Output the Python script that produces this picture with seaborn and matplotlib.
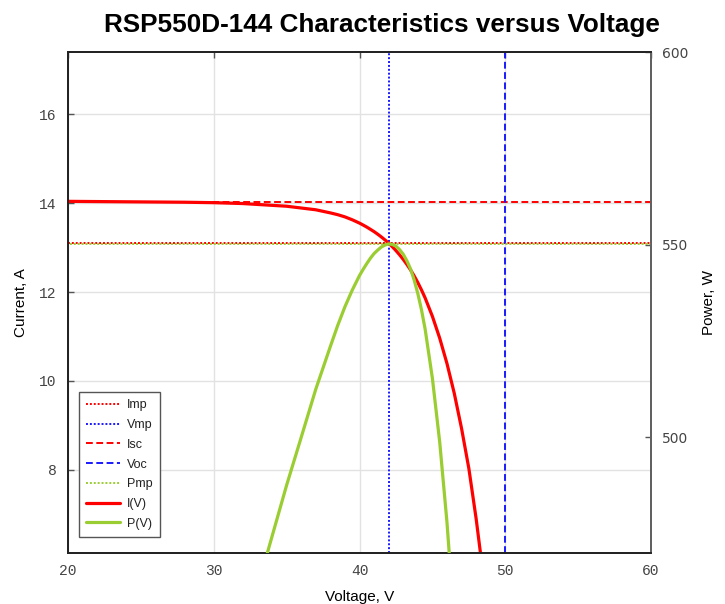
import matplotlib
matplotlib.use("Agg")
import matplotlib.pyplot as plt
import pandas as pd
import seaborn as sns
from matplotlib.lines import Line2D

# values
voltage = [20, 24, 28, 30, 32, 33, 34, 35, 36, 37, 38, 38.5, 39, 39.5,
           40, 40.25, 40.5, 40.75, 41, 41.25, 41.5, 41.75, 42, 42.25, 42.5,
           42.75, 43, 43.25, 43.5, 43.75, 44, 44.25, 44.5, 45, 45.5, 46,
           46.5, 47, 47.5, 48, 48.5]
current = [14.04, 14.03, 14.02, 14.01, 13.99, 13.97, 13.95, 13.93, 13.89, 13.85,
           13.78, 13.74, 13.69, 13.625, 13.55, 13.506, 13.46, 13.41, 13.358,
           13.30, 13.238, 13.171, 13.10, 13.019, 12.931, 12.836, 12.733, 12.62,
           12.498, 12.362, 12.212, 12.047, 11.867, 11.452, 10.962, 10.39, 9.72,
           8.93, 8.03, 6.90, 5.60]
power = [280.8, 336.7, 392.6, 420.3, 447.7, 461.0, 474.3, 487.6, 500.0, 512.5,
         523.6, 529.0, 533.9, 538.2, 542.0, 543.6, 545.1, 546.5, 547.7, 548.6,
         549.4, 549.9, 550.2, 550.05, 549.6, 548.7, 547.5, 545.8, 543.7, 540.8,
         537.3, 533.1, 528.1, 515.3, 498.8, 477.9, 452.0, 419.7, 381.4, 331.2,
         271.6]

imp, vmp, isc, voc, pmp = 13.1, 42.0, 14.02, 50.0, 550.2

x_ticks = [20, 30, 40, 50, 60]
y_ticks = [8, 10, 12, 14, 16]
p_ticks = [500, 550, 600]

df = pd.DataFrame({"V": voltage, "I": current, "P": power})

sns.set_style("white")
plt.rcParams['font.family'] = ['Liberation Sans', 'DejaVu Sans']
plt.rcParams['text.color'] = 'black'
plt.rcParams['axes.labelcolor'] = 'black'

RED = "#ff0000"
BLUE = "#1a1aff"
GREEN = "#9acd32"
TXT = "#444444"

fig = plt.figure(figsize=(7.25, 6.04), dpi=100)
ax = fig.add_axes([0.0938, 0.0846, 0.8042, 0.8293])
ax2 = ax.twinx()

ax.grid(True, color="#e2e2e2", lw=1.0)
ax.set_axisbelow(True)

dot = (0, (1, 1))
dash = (0, (3.5, 1.8))

ax.axhline(imp, color=RED, lw=1.4, ls=dot, zorder=2)
ax.axvline(vmp, color=BLUE, lw=1.4, ls=dot, zorder=2)
ax.axhline(isc, color=RED, lw=1.4, ls=dash, zorder=2)
ax.axvline(voc, color=BLUE, lw=1.4, ls=dash, zorder=2)
ax2.axhline(pmp, color=GREEN, lw=1.4, ls=(1, (1, 1)), zorder=2)

sns.lineplot(data=df, x="V", y="I", ax=ax, color=RED, lw=2.3, zorder=4)
sns.lineplot(data=df, x="V", y="P", ax=ax2, color=GREEN, lw=2.3, zorder=3)

ax.set_xlim(20, 60)
ax.set_ylim(6.13, 17.4)
ax2.set_ylim(470, 600)
ax.set_xticks(x_ticks)
ax.set_yticks(y_ticks)
ax2.set_yticks(p_ticks)

mono = {"family": "Liberation Mono", "size": 10.5}
ax.set_xticklabels([str(t) for t in x_ticks], fontdict=mono, color=TXT)
ax.set_yticklabels([str(t) for t in y_ticks], fontdict=mono, color=TXT)
ax2.set_yticklabels([str(t) for t in p_ticks], family="DejaVu Sans",
                    fontsize=10, color=TXT)

ax.tick_params(axis="both", direction="in", length=4, width=1, color="#555555",
               top=True, right=False, pad=8)
ax2.tick_params(axis="y", direction="in", length=4, width=1, color="#555555", pad=8)

for a in (ax, ax2):
    for s in a.spines.values():
        s.set_color("#222222")
        s.set_linewidth(1.3)
ax2.spines["right"].set_color("#666666")

ax.set_xlabel("Voltage, V", fontsize=11, labelpad=8.5)
ax.set_ylabel("Current, A", fontsize=11, labelpad=8)
ax2.set_ylabel("Power, W", fontsize=11, labelpad=10)

fig.text(0.527, 0.958, "RSP550D-144 Characteristics versus Voltage",
         ha="center", va="center", fontsize=18.8, fontweight="bold", color="black")

handles = [
    Line2D([], [], color=RED, lw=1.4, ls=dot),
    Line2D([], [], color=BLUE, lw=1.4, ls=dot),
    Line2D([], [], color=RED, lw=1.4, ls=dash),
    Line2D([], [], color=BLUE, lw=1.4, ls=dash),
    Line2D([], [], color=GREEN, lw=1.4, ls=dot),
    Line2D([], [], color=RED, lw=2.3),
    Line2D([], [], color=GREEN, lw=2.3),
]
labels = ["Imp", "Vmp", "Isc", "Voc", "Pmp", "I(V)", "P(V)"]
leg = ax2.legend(handles, labels, loc="lower left", bbox_to_anchor=(0.008, 0.02),
                 fontsize=9, fancybox=False, framealpha=1, edgecolor="#555555",
                 handlelength=2.7, labelspacing=0.62, borderpad=0.55,
                 handletextpad=0.6)
leg.get_frame().set_linewidth(1.0)
for t in leg.get_texts():
    t.set_color("#222222")

fig.savefig("out.png", dpi=100)
